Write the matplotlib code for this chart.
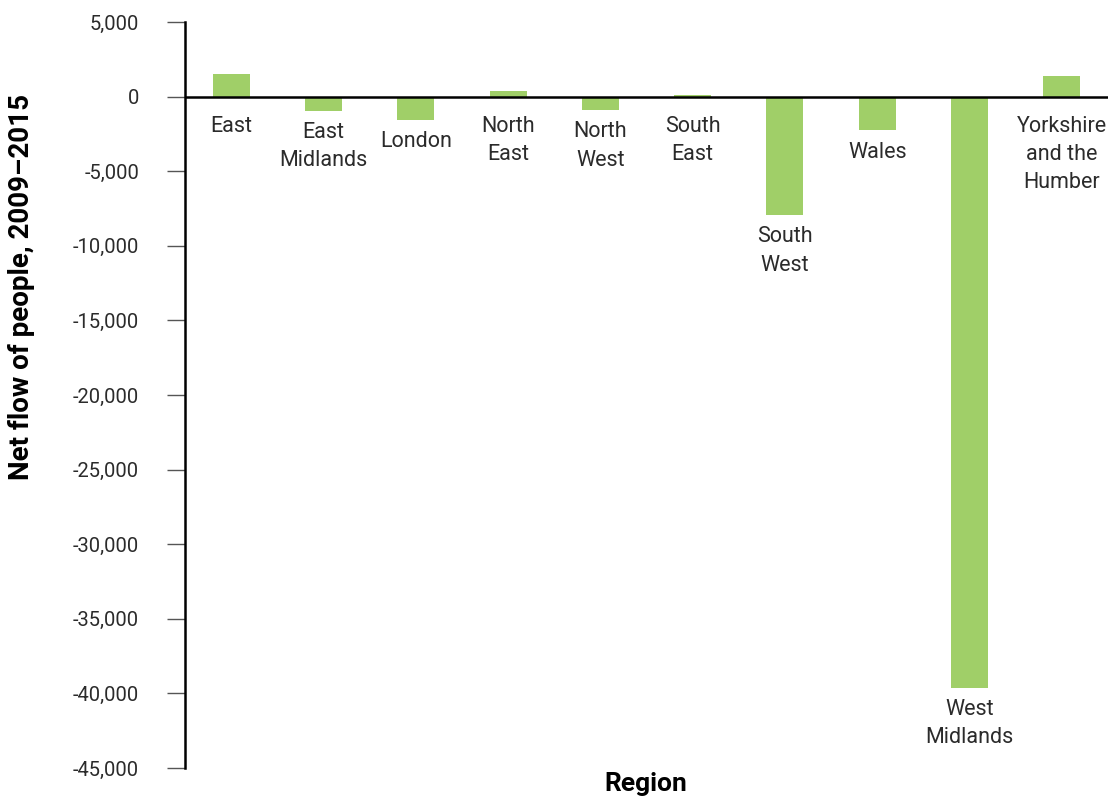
import matplotlib
matplotlib.use("Agg")
import matplotlib.pyplot as plt
import numpy as np

# data
regions = ["East", "East\nMidlands", "London", "North\nEast", "North\nWest",
           "South\nEast", "South\nWest", "Wales", "West\nMidlands",
           "Yorkshire\nand the\nHumber"]
net_flow = [1500, -950, -1580, 370, -920, 100, -7950, -2270, -39650, 1370]
yticks = [5000, 0, -5000, -10000, -15000, -20000, -25000, -30000, -35000, -40000, -45000]

plt.rcParams['font.family'] = ['Roboto', 'DejaVu Sans']
text_col = '#2b2b2b'
bar_col = '#a0cf68'

fig = plt.figure(figsize=(11.09, 8.01), dpi=100)
ax = fig.add_axes([185/1109, 1-768/801, (1108-185)/1109, (768-22)/801])

x = np.arange(len(regions))
ax.bar(x, net_flow, width=0.4, color=bar_col, zorder=2)
ax.axhline(0, color='black', lw=1.8, zorder=3)

ax.set_xlim(-0.5, len(regions)-0.5)
ax.set_ylim(-45000, 5000)
ax.set_yticks(yticks)
ax.set_yticklabels([f"{v:,}" for v in yticks], fontsize=14.5, color=text_col)
ax.tick_params(axis='y', length=13, width=1, color='#555555', pad=20)
ax.set_xticks([])

for s in ['top', 'right', 'bottom']:
    ax.spines[s].set_visible(False)
ax.spines['left'].set_linewidth(1.8)

# category labels under each bar (or under the zero line for positive bars)
for xi, v, lab in zip(x, net_flow, regions):
    if v >= 0:
        y0, off = 0, -14
    else:
        y0, off = v, -8
    ax.annotate(lab, (xi, y0), xytext=(0, off), textcoords='offset points',
                ha='center', va='top', fontsize=15.5, color=text_col,
                linespacing=1.45)

fig.text(646/1109, 1-784/801, "Region", ha='center', va='center',
         fontsize=19, fontweight='bold', color='black')
fig.text(22/1109, 1-287/801, "Net flow of people, 2009\u20132015", ha='center',
         va='center', rotation=90, fontsize=20, fontweight='bold', color='black')

fig.savefig("out.png", dpi=100)
